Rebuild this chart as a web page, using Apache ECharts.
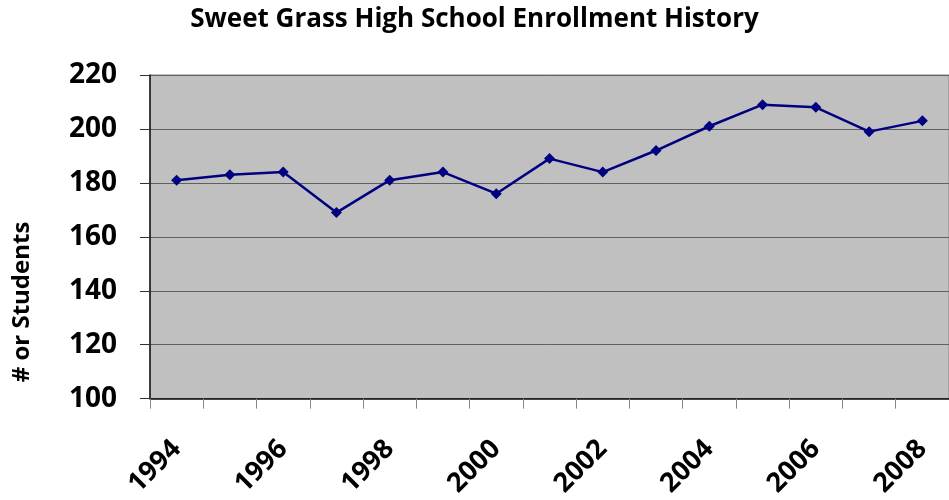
<!DOCTYPE html>
<html>
<head>
<meta charset="utf-8">
<title>Sweet Grass High School Enrollment History</title>
<script src="https://cdn.jsdelivr.net/npm/echarts@6/dist/echarts.min.js"></script>
<style>
html,body{margin:0;padding:0;background:#fff;}
#chart{width:949px;height:500px;}
</style>
</head>
<body>
<div id="chart"></div>
<script>
var years=['1994','1995','1996','1997','1998','1999','2000','2001','2002','2003','2004','2005','2006','2007','2008'];
var students=[181,183,184,169,181,184,176,189,184,192,201,209,208,199,203];
var yMin=100, yMax=220, yStep=20;

var myChart=echarts.init(document.getElementById('chart'));
var font='"Open Sans", sans-serif';
var option={
    animation:false,
    title:{
        text:'Sweet Grass High School Enrollment History',
        left:'center',
        top:2,
        textStyle:{
            fontFamily:font,
            fontWeight:'bold',
            fontSize:26,
            color:'#000'
        }
    },
    graphic:[{
        type:'text',
        x:22,
        y:302,
        rotation:Math.PI/2,
        style:{
            text:'# or Students',
            fontFamily:font,
            fontWeight:'bold',
            fontSize:24,
            fill:'#000',
            textAlign:'center',
            textVerticalAlign:'middle'
        }
    }],
    grid:{
        left:150,
        right:-8,
        top:75,
        bottom:100,
        show:true,
        backgroundColor:'#C0C0C0',
        borderColor:'#888',
        borderWidth:1
    },
    xAxis:{
        type:'category',
        data:years,
        boundaryGap:true,
        axisLine:{
            lineStyle:{color:'#111',width:1.5}
        },
        axisTick:{
            show:true,
            interval:0,
            length:10,
            lineStyle:{color:'#888'}
        },
        axisLabel:{
            interval:1,
            rotate:45,
            margin:46,
            fontFamily:font,
            fontWeight:'bold',
            fontSize:27,
            color:'#000'
        },
        splitLine:{show:false}
    },
    yAxis:{
        type:'value',
        min:yMin,
        max:yMax,
        interval:yStep,
        axisLine:{
            show:true,
            lineStyle:{color:'#111',width:1.5}
        },
        axisTick:{
            show:true,
            length:10,
            lineStyle:{color:'#333'}
        },
        axisLabel:{
            margin:33,
            fontFamily:font,
            fontWeight:'bold',
            fontSize:28,
            color:'#000'
        },
        splitLine:{
            show:true,
            lineStyle:{color:'#606060',width:1}
        }
    },
    series:[{
        name:'Students',
        type:'line',
        data:students,
        symbol:'diamond',
        symbolSize:11,
        itemStyle:{color:'#000080'},
        lineStyle:{color:'#000080',width:2.5}
    }]
};
myChart.setOption(option,true);
</script>
</body>
</html>
